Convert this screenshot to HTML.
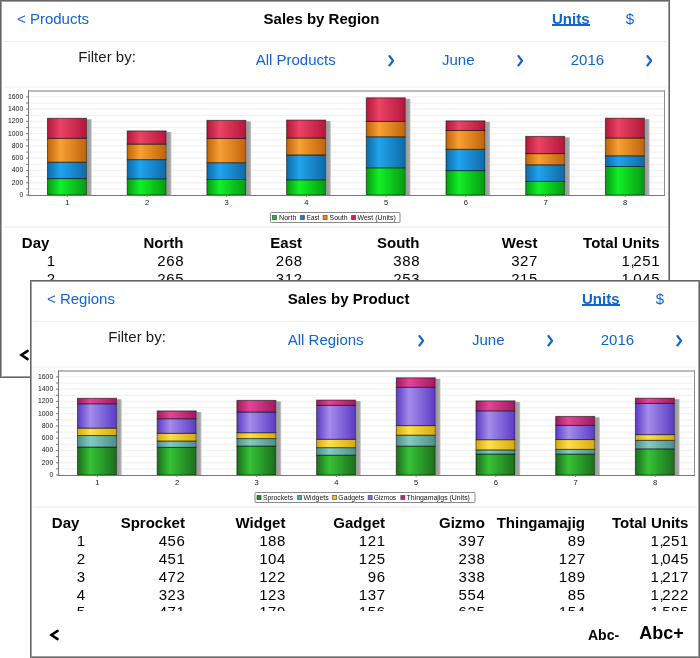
<!DOCTYPE html>
<html><head><meta charset="utf-8"><style>
html,body{margin:0;padding:0;background:#fff;}
body{width:700px;height:658px;position:relative;overflow:hidden;font-family:"Liberation Sans", sans-serif;}
.win{position:absolute;width:670px;height:378px;background:#fff;overflow:hidden;will-change:transform;}
.win::after{content:"";position:absolute;left:0;top:0;right:0;bottom:0;border:1px solid #666;box-shadow:inset 0 0 0 1px #a2a2a2;pointer-events:none;}
</style></head><body>
<div class="win" style="left:0px;top:0px">
<div style="position:absolute;left:17px;top:11.2px;font-size:15px;line-height:15px;font-weight:400;color:#1064cc;white-space:nowrap;">&lt; Products</div>
<div style="position:absolute;right:290.55px;top:11.2px;font-size:15px;line-height:15px;font-weight:700;color:#000;white-space:nowrap;">Sales by Region</div>
<div style="position:absolute;left:552px;top:11.2px;font-size:15px;line-height:15px;font-weight:700;color:#1064cc;white-space:nowrap;">Units</div>
<div style="position:absolute;left:551.6px;width:38px;top:24.4px;height:1.4px;background:#1064cc"></div>
<div style="position:absolute;left:625.8px;top:11.2px;font-size:15px;line-height:15px;font-weight:400;color:#1064cc;white-space:nowrap;">$</div>
<div style="position:absolute;left:3px;right:3px;top:40.8px;height:1.6px;background:#ebebf0"></div>
<div style="position:absolute;left:78.3px;top:49.2px;font-size:15px;line-height:15px;font-weight:400;color:#1a1a1a;white-space:nowrap;">Filter by:</div>
<div style="position:absolute;left:295.7px;top:51.6px;font-size:15px;line-height:15px;font-weight:400;color:#1064cc;white-space:nowrap;transform:translateX(-50%) ;transform-origin:0 12.70px;">All Products</div>
<div style="position:absolute;left:458.3px;top:51.6px;font-size:15px;line-height:15px;font-weight:400;color:#1064cc;white-space:nowrap;transform:translateX(-50%) ;transform-origin:0 12.70px;">June</div>
<div style="position:absolute;left:587.4px;top:51.6px;font-size:15px;line-height:15px;font-weight:400;color:#1064cc;white-space:nowrap;transform:translateX(-50%) ;transform-origin:0 12.70px;">2016</div>
<svg style="position:absolute;left:387px;top:55px" width="8" height="12" viewBox="0 0 8 12"><path d="M2.4 1.0 L6.1 5.75 L2.4 10.5" fill="none" stroke="#1064cc" stroke-width="2.05" stroke-linecap="round" stroke-linejoin="round"/></svg>
<svg style="position:absolute;left:516px;top:55px" width="8" height="12" viewBox="0 0 8 12"><path d="M2.4 1.0 L6.1 5.75 L2.4 10.5" fill="none" stroke="#1064cc" stroke-width="2.05" stroke-linecap="round" stroke-linejoin="round"/></svg>
<svg style="position:absolute;left:644.5px;top:55px" width="8" height="12" viewBox="0 0 8 12"><path d="M2.4 1.0 L6.1 5.75 L2.4 10.5" fill="none" stroke="#1064cc" stroke-width="2.05" stroke-linecap="round" stroke-linejoin="round"/></svg>
<div style="position:absolute;left:3px;right:3px;top:86px;height:1.5px;background:#f8f8f9"></div>
<svg width="670" height="240" viewBox="0 0 670 240" style="position:absolute;left:0;top:0">
<defs>
<linearGradient id="gR0" x1="0" y1="0" x2="1" y2="0"><stop offset="0" stop-color="#079a12"/><stop offset="0.33" stop-color="#12f028"/><stop offset="1" stop-color="#079a12"/></linearGradient>
<linearGradient id="gR1" x1="0" y1="0" x2="1" y2="0"><stop offset="0" stop-color="#0f6aa6"/><stop offset="0.33" stop-color="#1fa4ee"/><stop offset="1" stop-color="#0f6aa6"/></linearGradient>
<linearGradient id="gR2" x1="0" y1="0" x2="1" y2="0"><stop offset="0" stop-color="#c0640c"/><stop offset="0.33" stop-color="#f7a033"/><stop offset="1" stop-color="#c0640c"/></linearGradient>
<linearGradient id="gR3" x1="0" y1="0" x2="1" y2="0"><stop offset="0" stop-color="#b3173b"/><stop offset="0.33" stop-color="#ea4366"/><stop offset="1" stop-color="#b3173b"/></linearGradient>
<linearGradient id="shR" x1="0" y1="0" x2="1" y2="0"><stop offset="0" stop-color="#999"/><stop offset="0.7" stop-color="#a6a6a6"/><stop offset="1" stop-color="#c8c8c8"/></linearGradient>
</defs>
<rect x="28" y="90.5" width="637" height="104.5" fill="#fff"/>
<line x1="29" x2="665" y1="188.87" y2="188.87" stroke="#f2f2f2" stroke-width="1.3"/>
<line x1="29" x2="665" y1="182.74" y2="182.74" stroke="#f2f2f2" stroke-width="1.3"/>
<line x1="29" x2="665" y1="176.61" y2="176.61" stroke="#f2f2f2" stroke-width="1.3"/>
<line x1="29" x2="665" y1="170.47" y2="170.47" stroke="#f2f2f2" stroke-width="1.3"/>
<line x1="29" x2="665" y1="164.34" y2="164.34" stroke="#f2f2f2" stroke-width="1.3"/>
<line x1="29" x2="665" y1="158.21" y2="158.21" stroke="#f2f2f2" stroke-width="1.3"/>
<line x1="29" x2="665" y1="152.08" y2="152.08" stroke="#f2f2f2" stroke-width="1.3"/>
<line x1="29" x2="665" y1="145.95" y2="145.95" stroke="#f2f2f2" stroke-width="1.3"/>
<line x1="29" x2="665" y1="139.82" y2="139.82" stroke="#f2f2f2" stroke-width="1.3"/>
<line x1="29" x2="665" y1="133.69" y2="133.69" stroke="#f2f2f2" stroke-width="1.3"/>
<line x1="29" x2="665" y1="127.56" y2="127.56" stroke="#f2f2f2" stroke-width="1.3"/>
<line x1="29" x2="665" y1="121.42" y2="121.42" stroke="#f2f2f2" stroke-width="1.3"/>
<line x1="29" x2="665" y1="115.29" y2="115.29" stroke="#f2f2f2" stroke-width="1.3"/>
<line x1="29" x2="665" y1="109.16" y2="109.16" stroke="#f2f2f2" stroke-width="1.3"/>
<line x1="29" x2="665" y1="103.03" y2="103.03" stroke="#f2f2f2" stroke-width="1.3"/>
<line x1="29" x2="665" y1="96.90" y2="96.90" stroke="#f2f2f2" stroke-width="1.3"/>
<line x1="28" x2="665" y1="91.0" y2="91.0" stroke="#a4a4a4" stroke-width="1.6"/>
<line x1="664.5" x2="664.5" y1="90.5" y2="195" stroke="#8e8e8e" stroke-width="1"/>
<rect x="87.00" y="119.30" width="4.7" height="75.70" fill="url(#shR)"/>
<rect x="47.50" y="178.57" width="39.0" height="16.43" fill="url(#gR0)" stroke="rgba(0,0,0,0.55)" stroke-width="1"/>
<rect x="47.50" y="162.14" width="39.0" height="16.43" fill="url(#gR1)" stroke="rgba(0,0,0,0.55)" stroke-width="1"/>
<rect x="47.50" y="138.35" width="39.0" height="23.79" fill="url(#gR2)" stroke="rgba(0,0,0,0.55)" stroke-width="1"/>
<rect x="47.50" y="118.30" width="39.0" height="20.05" fill="url(#gR3)" stroke="rgba(0,0,0,0.55)" stroke-width="1"/>
<rect x="166.70" y="131.93" width="4.7" height="63.07" fill="url(#shR)"/>
<rect x="127.20" y="178.75" width="39.0" height="16.25" fill="url(#gR0)" stroke="rgba(0,0,0,0.55)" stroke-width="1"/>
<rect x="127.20" y="159.62" width="39.0" height="19.13" fill="url(#gR1)" stroke="rgba(0,0,0,0.55)" stroke-width="1"/>
<rect x="127.20" y="144.11" width="39.0" height="15.51" fill="url(#gR2)" stroke="rgba(0,0,0,0.55)" stroke-width="1"/>
<rect x="127.20" y="130.93" width="39.0" height="13.18" fill="url(#gR3)" stroke="rgba(0,0,0,0.55)" stroke-width="1"/>
<rect x="246.40" y="121.38" width="4.7" height="73.62" fill="url(#shR)"/>
<rect x="206.90" y="179.49" width="39.0" height="15.51" fill="url(#gR0)" stroke="rgba(0,0,0,0.55)" stroke-width="1"/>
<rect x="206.90" y="162.69" width="39.0" height="16.80" fill="url(#gR1)" stroke="rgba(0,0,0,0.55)" stroke-width="1"/>
<rect x="206.90" y="138.47" width="39.0" height="24.22" fill="url(#gR2)" stroke="rgba(0,0,0,0.55)" stroke-width="1"/>
<rect x="206.90" y="120.38" width="39.0" height="18.09" fill="url(#gR3)" stroke="rgba(0,0,0,0.55)" stroke-width="1"/>
<rect x="326.10" y="121.08" width="4.7" height="73.92" fill="url(#shR)"/>
<rect x="286.60" y="179.79" width="39.0" height="15.21" fill="url(#gR0)" stroke="rgba(0,0,0,0.55)" stroke-width="1"/>
<rect x="286.60" y="154.90" width="39.0" height="24.89" fill="url(#gR1)" stroke="rgba(0,0,0,0.55)" stroke-width="1"/>
<rect x="286.60" y="137.98" width="39.0" height="16.92" fill="url(#gR2)" stroke="rgba(0,0,0,0.55)" stroke-width="1"/>
<rect x="286.60" y="120.08" width="39.0" height="17.90" fill="url(#gR3)" stroke="rgba(0,0,0,0.55)" stroke-width="1"/>
<rect x="405.80" y="98.82" width="4.7" height="96.18" fill="url(#shR)"/>
<rect x="366.30" y="167.78" width="39.0" height="27.22" fill="url(#gR0)" stroke="rgba(0,0,0,0.55)" stroke-width="1"/>
<rect x="366.30" y="136.75" width="39.0" height="31.02" fill="url(#gR1)" stroke="rgba(0,0,0,0.55)" stroke-width="1"/>
<rect x="366.30" y="121.36" width="39.0" height="15.39" fill="url(#gR2)" stroke="rgba(0,0,0,0.55)" stroke-width="1"/>
<rect x="366.30" y="97.82" width="39.0" height="23.54" fill="url(#gR3)" stroke="rgba(0,0,0,0.55)" stroke-width="1"/>
<rect x="485.50" y="121.87" width="4.7" height="73.13" fill="url(#shR)"/>
<rect x="446.00" y="170.60" width="39.0" height="24.40" fill="url(#gR0)" stroke="rgba(0,0,0,0.55)" stroke-width="1"/>
<rect x="446.00" y="149.32" width="39.0" height="21.28" fill="url(#gR1)" stroke="rgba(0,0,0,0.55)" stroke-width="1"/>
<rect x="446.00" y="130.50" width="39.0" height="18.82" fill="url(#gR2)" stroke="rgba(0,0,0,0.55)" stroke-width="1"/>
<rect x="446.00" y="120.87" width="39.0" height="9.63" fill="url(#gR3)" stroke="rgba(0,0,0,0.55)" stroke-width="1"/>
<rect x="565.20" y="137.39" width="4.7" height="57.61" fill="url(#shR)"/>
<rect x="525.70" y="181.39" width="39.0" height="13.61" fill="url(#gR0)" stroke="rgba(0,0,0,0.55)" stroke-width="1"/>
<rect x="525.70" y="164.77" width="39.0" height="16.62" fill="url(#gR1)" stroke="rgba(0,0,0,0.55)" stroke-width="1"/>
<rect x="525.70" y="153.61" width="39.0" height="11.16" fill="url(#gR2)" stroke="rgba(0,0,0,0.55)" stroke-width="1"/>
<rect x="525.70" y="136.39" width="39.0" height="17.23" fill="url(#gR3)" stroke="rgba(0,0,0,0.55)" stroke-width="1"/>
<rect x="644.90" y="119.18" width="4.7" height="75.82" fill="url(#shR)"/>
<rect x="605.40" y="166.49" width="39.0" height="28.51" fill="url(#gR0)" stroke="rgba(0,0,0,0.55)" stroke-width="1"/>
<rect x="605.40" y="155.76" width="39.0" height="10.73" fill="url(#gR1)" stroke="rgba(0,0,0,0.55)" stroke-width="1"/>
<rect x="605.40" y="137.98" width="39.0" height="17.78" fill="url(#gR2)" stroke="rgba(0,0,0,0.55)" stroke-width="1"/>
<rect x="605.40" y="118.18" width="39.0" height="19.80" fill="url(#gR3)" stroke="rgba(0,0,0,0.55)" stroke-width="1"/>
<line x1="28.5" x2="28.5" y1="90.5" y2="196" stroke="#777" stroke-width="1.1"/>
<line x1="28" x2="665" y1="195.5" y2="195.5" stroke="#777" stroke-width="1.1"/>
<line x1="26" x2="28" y1="195.00" y2="195.00" stroke="#7a7a7a" stroke-width="1"/>
<text x="23.2" y="196.90" text-anchor="end" font-family="Liberation Sans" font-size="7.6" fill="#141414" textLength="3.8" lengthAdjust="spacingAndGlyphs">0</text>
<line x1="26" x2="28" y1="188.87" y2="188.87" stroke="#7a7a7a" stroke-width="1"/>
<line x1="26" x2="28" y1="182.74" y2="182.74" stroke="#7a7a7a" stroke-width="1"/>
<text x="23.2" y="184.64" text-anchor="end" font-family="Liberation Sans" font-size="7.6" fill="#141414" textLength="11.4" lengthAdjust="spacingAndGlyphs">200</text>
<line x1="26" x2="28" y1="176.61" y2="176.61" stroke="#7a7a7a" stroke-width="1"/>
<line x1="26" x2="28" y1="170.47" y2="170.47" stroke="#7a7a7a" stroke-width="1"/>
<text x="23.2" y="172.38" text-anchor="end" font-family="Liberation Sans" font-size="7.6" fill="#141414" textLength="11.4" lengthAdjust="spacingAndGlyphs">400</text>
<line x1="26" x2="28" y1="164.34" y2="164.34" stroke="#7a7a7a" stroke-width="1"/>
<line x1="26" x2="28" y1="158.21" y2="158.21" stroke="#7a7a7a" stroke-width="1"/>
<text x="23.2" y="160.11" text-anchor="end" font-family="Liberation Sans" font-size="7.6" fill="#141414" textLength="11.4" lengthAdjust="spacingAndGlyphs">600</text>
<line x1="26" x2="28" y1="152.08" y2="152.08" stroke="#7a7a7a" stroke-width="1"/>
<line x1="26" x2="28" y1="145.95" y2="145.95" stroke="#7a7a7a" stroke-width="1"/>
<text x="23.2" y="147.85" text-anchor="end" font-family="Liberation Sans" font-size="7.6" fill="#141414" textLength="11.4" lengthAdjust="spacingAndGlyphs">800</text>
<line x1="26" x2="28" y1="139.82" y2="139.82" stroke="#7a7a7a" stroke-width="1"/>
<line x1="26" x2="28" y1="133.69" y2="133.69" stroke="#7a7a7a" stroke-width="1"/>
<text x="23.2" y="135.59" text-anchor="end" font-family="Liberation Sans" font-size="7.6" fill="#141414" textLength="15.2" lengthAdjust="spacingAndGlyphs">1000</text>
<line x1="26" x2="28" y1="127.56" y2="127.56" stroke="#7a7a7a" stroke-width="1"/>
<line x1="26" x2="28" y1="121.42" y2="121.42" stroke="#7a7a7a" stroke-width="1"/>
<text x="23.2" y="123.33" text-anchor="end" font-family="Liberation Sans" font-size="7.6" fill="#141414" textLength="15.2" lengthAdjust="spacingAndGlyphs">1200</text>
<line x1="26" x2="28" y1="115.29" y2="115.29" stroke="#7a7a7a" stroke-width="1"/>
<line x1="26" x2="28" y1="109.16" y2="109.16" stroke="#7a7a7a" stroke-width="1"/>
<text x="23.2" y="111.06" text-anchor="end" font-family="Liberation Sans" font-size="7.6" fill="#141414" textLength="15.2" lengthAdjust="spacingAndGlyphs">1400</text>
<line x1="26" x2="28" y1="103.03" y2="103.03" stroke="#7a7a7a" stroke-width="1"/>
<line x1="26" x2="28" y1="96.90" y2="96.90" stroke="#7a7a7a" stroke-width="1"/>
<text x="23.2" y="98.80" text-anchor="end" font-family="Liberation Sans" font-size="7.6" fill="#141414" textLength="15.2" lengthAdjust="spacingAndGlyphs">1600</text>
<line x1="67.30" x2="67.30" y1="195" y2="197" stroke="#7a7a7a" stroke-width="1"/>
<text x="67.30" y="205.3" text-anchor="middle" font-family="Liberation Sans" font-size="7.6" fill="#141414">1</text>
<line x1="147.00" x2="147.00" y1="195" y2="197" stroke="#7a7a7a" stroke-width="1"/>
<text x="147.00" y="205.3" text-anchor="middle" font-family="Liberation Sans" font-size="7.6" fill="#141414">2</text>
<line x1="226.70" x2="226.70" y1="195" y2="197" stroke="#7a7a7a" stroke-width="1"/>
<text x="226.70" y="205.3" text-anchor="middle" font-family="Liberation Sans" font-size="7.6" fill="#141414">3</text>
<line x1="306.40" x2="306.40" y1="195" y2="197" stroke="#7a7a7a" stroke-width="1"/>
<text x="306.40" y="205.3" text-anchor="middle" font-family="Liberation Sans" font-size="7.6" fill="#141414">4</text>
<line x1="386.10" x2="386.10" y1="195" y2="197" stroke="#7a7a7a" stroke-width="1"/>
<text x="386.10" y="205.3" text-anchor="middle" font-family="Liberation Sans" font-size="7.6" fill="#141414">5</text>
<line x1="465.80" x2="465.80" y1="195" y2="197" stroke="#7a7a7a" stroke-width="1"/>
<text x="465.80" y="205.3" text-anchor="middle" font-family="Liberation Sans" font-size="7.6" fill="#141414">6</text>
<line x1="545.50" x2="545.50" y1="195" y2="197" stroke="#7a7a7a" stroke-width="1"/>
<text x="545.50" y="205.3" text-anchor="middle" font-family="Liberation Sans" font-size="7.6" fill="#141414">7</text>
<line x1="625.20" x2="625.20" y1="195" y2="197" stroke="#7a7a7a" stroke-width="1"/>
<text x="625.20" y="205.3" text-anchor="middle" font-family="Liberation Sans" font-size="7.6" fill="#141414">8</text>
<rect x="270.5" y="212.5" width="129.5" height="10" rx="1" fill="#fff" stroke="#888" stroke-width="1"/>
<rect x="272.5" y="215.5" width="4" height="4" fill="#17c22a" stroke="rgba(0,0,0,0.45)" stroke-width="1"/>
<text x="279" y="220.3" font-family="Liberation Sans" font-size="7.2" fill="#111" textLength="17.4" lengthAdjust="spacingAndGlyphs">North</text>
<rect x="300.4" y="215.5" width="4" height="4" fill="#1a7fcf" stroke="rgba(0,0,0,0.45)" stroke-width="1"/>
<text x="306.7" y="220.3" font-family="Liberation Sans" font-size="7.2" fill="#111" textLength="12.6" lengthAdjust="spacingAndGlyphs">East</text>
<rect x="323.1" y="215.5" width="4" height="4" fill="#e58a22" stroke="rgba(0,0,0,0.45)" stroke-width="1"/>
<text x="329.6" y="220.3" font-family="Liberation Sans" font-size="7.2" fill="#111" textLength="18.0" lengthAdjust="spacingAndGlyphs">South</text>
<rect x="351.5" y="215.5" width="4" height="4" fill="#d4244c" stroke="rgba(0,0,0,0.45)" stroke-width="1"/>
<text x="357.5" y="220.3" font-family="Liberation Sans" font-size="7.2" fill="#111" textLength="38.3" lengthAdjust="spacingAndGlyphs">West (Units)</text>
</svg>
<div style="position:absolute;left:3px;right:3px;top:226px;height:1.5px;background:#f4f4f7"></div>
<div style="position:absolute;left:0;top:0;width:670px;height:331px;overflow:hidden">
<div style="position:absolute;left:21.8px;top:235.3px;font-size:15px;line-height:15px;font-weight:700;color:#000;white-space:nowrap;">Day</div>
<div style="position:absolute;right:486.5px;top:235.3px;font-size:15px;line-height:15px;font-weight:700;color:#000;white-space:nowrap;">North</div>
<div style="position:absolute;right:368px;top:235.3px;font-size:15px;line-height:15px;font-weight:700;color:#000;white-space:nowrap;">East</div>
<div style="position:absolute;right:250.5px;top:235.3px;font-size:15px;line-height:15px;font-weight:700;color:#000;white-space:nowrap;">South</div>
<div style="position:absolute;right:132.60000000000002px;top:235.3px;font-size:15px;line-height:15px;font-weight:700;color:#000;white-space:nowrap;">West</div>
<div style="position:absolute;right:10.5px;top:235.3px;font-size:15px;line-height:15px;font-weight:700;color:#000;white-space:nowrap;">Total Units</div>
<div style="position:absolute;right:614.4px;top:253.0px;font-size:15px;line-height:15px;font-weight:400;color:#000;white-space:nowrap;letter-spacing:0.6px;">1</div>
<div style="position:absolute;right:485.9px;top:253.0px;font-size:15px;line-height:15px;font-weight:400;color:#000;white-space:nowrap;letter-spacing:0.6px;">268</div>
<div style="position:absolute;right:367.4px;top:253.0px;font-size:15px;line-height:15px;font-weight:400;color:#000;white-space:nowrap;letter-spacing:0.6px;">268</div>
<div style="position:absolute;right:249.89999999999998px;top:253.0px;font-size:15px;line-height:15px;font-weight:400;color:#000;white-space:nowrap;letter-spacing:0.6px;">388</div>
<div style="position:absolute;right:132.0px;top:253.0px;font-size:15px;line-height:15px;font-weight:400;color:#000;white-space:nowrap;letter-spacing:0.6px;">327</div>
<div style="position:absolute;right:9.899999999999977px;top:253.0px;font-size:15px;line-height:15px;font-weight:400;color:#000;white-space:nowrap;letter-spacing:0.6px;">1<span style="letter-spacing:-1.4px">,</span>251</div>
<div style="position:absolute;right:614.4px;top:270.85px;font-size:15px;line-height:15px;font-weight:400;color:#000;white-space:nowrap;letter-spacing:0.6px;">2</div>
<div style="position:absolute;right:485.9px;top:270.85px;font-size:15px;line-height:15px;font-weight:400;color:#000;white-space:nowrap;letter-spacing:0.6px;">265</div>
<div style="position:absolute;right:367.4px;top:270.85px;font-size:15px;line-height:15px;font-weight:400;color:#000;white-space:nowrap;letter-spacing:0.6px;">312</div>
<div style="position:absolute;right:249.89999999999998px;top:270.85px;font-size:15px;line-height:15px;font-weight:400;color:#000;white-space:nowrap;letter-spacing:0.6px;">253</div>
<div style="position:absolute;right:132.0px;top:270.85px;font-size:15px;line-height:15px;font-weight:400;color:#000;white-space:nowrap;letter-spacing:0.6px;">215</div>
<div style="position:absolute;right:9.899999999999977px;top:270.85px;font-size:15px;line-height:15px;font-weight:400;color:#000;white-space:nowrap;letter-spacing:0.6px;">1<span style="letter-spacing:-1.4px">,</span>045</div>
<div style="position:absolute;right:614.4px;top:288.7px;font-size:15px;line-height:15px;font-weight:400;color:#000;white-space:nowrap;letter-spacing:0.6px;">3</div>
<div style="position:absolute;right:485.9px;top:288.7px;font-size:15px;line-height:15px;font-weight:400;color:#000;white-space:nowrap;letter-spacing:0.6px;">253</div>
<div style="position:absolute;right:367.4px;top:288.7px;font-size:15px;line-height:15px;font-weight:400;color:#000;white-space:nowrap;letter-spacing:0.6px;">274</div>
<div style="position:absolute;right:249.89999999999998px;top:288.7px;font-size:15px;line-height:15px;font-weight:400;color:#000;white-space:nowrap;letter-spacing:0.6px;">395</div>
<div style="position:absolute;right:132.0px;top:288.7px;font-size:15px;line-height:15px;font-weight:400;color:#000;white-space:nowrap;letter-spacing:0.6px;">295</div>
<div style="position:absolute;right:9.899999999999977px;top:288.7px;font-size:15px;line-height:15px;font-weight:400;color:#000;white-space:nowrap;letter-spacing:0.6px;">1<span style="letter-spacing:-1.4px">,</span>217</div>
<div style="position:absolute;right:614.4px;top:306.55px;font-size:15px;line-height:15px;font-weight:400;color:#000;white-space:nowrap;letter-spacing:0.6px;">4</div>
<div style="position:absolute;right:485.9px;top:306.55px;font-size:15px;line-height:15px;font-weight:400;color:#000;white-space:nowrap;letter-spacing:0.6px;">248</div>
<div style="position:absolute;right:367.4px;top:306.55px;font-size:15px;line-height:15px;font-weight:400;color:#000;white-space:nowrap;letter-spacing:0.6px;">406</div>
<div style="position:absolute;right:249.89999999999998px;top:306.55px;font-size:15px;line-height:15px;font-weight:400;color:#000;white-space:nowrap;letter-spacing:0.6px;">276</div>
<div style="position:absolute;right:132.0px;top:306.55px;font-size:15px;line-height:15px;font-weight:400;color:#000;white-space:nowrap;letter-spacing:0.6px;">292</div>
<div style="position:absolute;right:9.899999999999977px;top:306.55px;font-size:15px;line-height:15px;font-weight:400;color:#000;white-space:nowrap;letter-spacing:0.6px;">1<span style="letter-spacing:-1.4px">,</span>222</div>
<div style="position:absolute;right:614.4px;top:324.4px;font-size:15px;line-height:15px;font-weight:400;color:#000;white-space:nowrap;letter-spacing:0.6px;">5</div>
<div style="position:absolute;right:485.9px;top:324.4px;font-size:15px;line-height:15px;font-weight:400;color:#000;white-space:nowrap;letter-spacing:0.6px;">444</div>
<div style="position:absolute;right:367.4px;top:324.4px;font-size:15px;line-height:15px;font-weight:400;color:#000;white-space:nowrap;letter-spacing:0.6px;">506</div>
<div style="position:absolute;right:249.89999999999998px;top:324.4px;font-size:15px;line-height:15px;font-weight:400;color:#000;white-space:nowrap;letter-spacing:0.6px;">251</div>
<div style="position:absolute;right:132.0px;top:324.4px;font-size:15px;line-height:15px;font-weight:400;color:#000;white-space:nowrap;letter-spacing:0.6px;">384</div>
<div style="position:absolute;right:9.899999999999977px;top:324.4px;font-size:15px;line-height:15px;font-weight:400;color:#000;white-space:nowrap;letter-spacing:0.6px;">1<span style="letter-spacing:-1.4px">,</span>585</div>
<div style="position:absolute;right:614.4px;top:342.25px;font-size:15px;line-height:15px;font-weight:400;color:#000;white-space:nowrap;letter-spacing:0.6px;">6</div>
<div style="position:absolute;right:485.9px;top:342.25px;font-size:15px;line-height:15px;font-weight:400;color:#000;white-space:nowrap;letter-spacing:0.6px;">398</div>
<div style="position:absolute;right:367.4px;top:342.25px;font-size:15px;line-height:15px;font-weight:400;color:#000;white-space:nowrap;letter-spacing:0.6px;">347</div>
<div style="position:absolute;right:249.89999999999998px;top:342.25px;font-size:15px;line-height:15px;font-weight:400;color:#000;white-space:nowrap;letter-spacing:0.6px;">307</div>
<div style="position:absolute;right:132.0px;top:342.25px;font-size:15px;line-height:15px;font-weight:400;color:#000;white-space:nowrap;letter-spacing:0.6px;">157</div>
<div style="position:absolute;right:9.899999999999977px;top:342.25px;font-size:15px;line-height:15px;font-weight:400;color:#000;white-space:nowrap;letter-spacing:0.6px;">1<span style="letter-spacing:-1.4px">,</span>209</div>
<div style="position:absolute;right:614.4px;top:360.1px;font-size:15px;line-height:15px;font-weight:400;color:#000;white-space:nowrap;letter-spacing:0.6px;">7</div>
<div style="position:absolute;right:485.9px;top:360.1px;font-size:15px;line-height:15px;font-weight:400;color:#000;white-space:nowrap;letter-spacing:0.6px;">222</div>
<div style="position:absolute;right:367.4px;top:360.1px;font-size:15px;line-height:15px;font-weight:400;color:#000;white-space:nowrap;letter-spacing:0.6px;">271</div>
<div style="position:absolute;right:249.89999999999998px;top:360.1px;font-size:15px;line-height:15px;font-weight:400;color:#000;white-space:nowrap;letter-spacing:0.6px;">182</div>
<div style="position:absolute;right:132.0px;top:360.1px;font-size:15px;line-height:15px;font-weight:400;color:#000;white-space:nowrap;letter-spacing:0.6px;">281</div>
<div style="position:absolute;right:9.899999999999977px;top:360.1px;font-size:15px;line-height:15px;font-weight:400;color:#000;white-space:nowrap;letter-spacing:0.6px;">956</div>
<div style="position:absolute;right:614.4px;top:377.95000000000005px;font-size:15px;line-height:15px;font-weight:400;color:#000;white-space:nowrap;letter-spacing:0.6px;">8</div>
<div style="position:absolute;right:485.9px;top:377.95000000000005px;font-size:15px;line-height:15px;font-weight:400;color:#000;white-space:nowrap;letter-spacing:0.6px;">465</div>
<div style="position:absolute;right:367.4px;top:377.95000000000005px;font-size:15px;line-height:15px;font-weight:400;color:#000;white-space:nowrap;letter-spacing:0.6px;">175</div>
<div style="position:absolute;right:249.89999999999998px;top:377.95000000000005px;font-size:15px;line-height:15px;font-weight:400;color:#000;white-space:nowrap;letter-spacing:0.6px;">290</div>
<div style="position:absolute;right:132.0px;top:377.95000000000005px;font-size:15px;line-height:15px;font-weight:400;color:#000;white-space:nowrap;letter-spacing:0.6px;">323</div>
<div style="position:absolute;right:9.899999999999977px;top:377.95000000000005px;font-size:15px;line-height:15px;font-weight:400;color:#000;white-space:nowrap;letter-spacing:0.6px;">1<span style="letter-spacing:-1.4px">,</span>253</div>
</div>
<svg style="position:absolute;left:18px;top:348px" width="14" height="14" viewBox="0 0 14 14"><path d="M9.6 2.9 L3.4 7 L9.6 11.1" fill="none" stroke="#000" stroke-width="2.5" stroke-linecap="round" stroke-linejoin="miter"/></svg>

</div>
<div class="win" style="left:30px;top:280px">
<div style="position:absolute;left:17px;top:11.2px;font-size:15px;line-height:15px;font-weight:400;color:#1064cc;white-space:nowrap;">&lt; Regions</div>
<div style="position:absolute;right:290.55px;top:11.2px;font-size:15px;line-height:15px;font-weight:700;color:#000;white-space:nowrap;">Sales by Product</div>
<div style="position:absolute;left:552px;top:11.2px;font-size:15px;line-height:15px;font-weight:700;color:#1064cc;white-space:nowrap;">Units</div>
<div style="position:absolute;left:551.6px;width:38px;top:24.4px;height:1.4px;background:#1064cc"></div>
<div style="position:absolute;left:625.8px;top:11.2px;font-size:15px;line-height:15px;font-weight:400;color:#1064cc;white-space:nowrap;">$</div>
<div style="position:absolute;left:3px;right:3px;top:40.8px;height:1.6px;background:#ebebf0"></div>
<div style="position:absolute;left:78.3px;top:49.2px;font-size:15px;line-height:15px;font-weight:400;color:#1a1a1a;white-space:nowrap;">Filter by:</div>
<div style="position:absolute;left:295.7px;top:51.6px;font-size:15px;line-height:15px;font-weight:400;color:#1064cc;white-space:nowrap;transform:translateX(-50%) ;transform-origin:0 12.70px;">All Regions</div>
<div style="position:absolute;left:458.3px;top:51.6px;font-size:15px;line-height:15px;font-weight:400;color:#1064cc;white-space:nowrap;transform:translateX(-50%) ;transform-origin:0 12.70px;">June</div>
<div style="position:absolute;left:587.4px;top:51.6px;font-size:15px;line-height:15px;font-weight:400;color:#1064cc;white-space:nowrap;transform:translateX(-50%) ;transform-origin:0 12.70px;">2016</div>
<svg style="position:absolute;left:387px;top:55px" width="8" height="12" viewBox="0 0 8 12"><path d="M2.4 1.0 L6.1 5.75 L2.4 10.5" fill="none" stroke="#1064cc" stroke-width="2.05" stroke-linecap="round" stroke-linejoin="round"/></svg>
<svg style="position:absolute;left:516px;top:55px" width="8" height="12" viewBox="0 0 8 12"><path d="M2.4 1.0 L6.1 5.75 L2.4 10.5" fill="none" stroke="#1064cc" stroke-width="2.05" stroke-linecap="round" stroke-linejoin="round"/></svg>
<svg style="position:absolute;left:644.5px;top:55px" width="8" height="12" viewBox="0 0 8 12"><path d="M2.4 1.0 L6.1 5.75 L2.4 10.5" fill="none" stroke="#1064cc" stroke-width="2.05" stroke-linecap="round" stroke-linejoin="round"/></svg>
<div style="position:absolute;left:3px;right:3px;top:86px;height:1.5px;background:#f8f8f9"></div>
<svg width="670" height="240" viewBox="0 0 670 240" style="position:absolute;left:0;top:0">
<defs>
<linearGradient id="gP0" x1="0" y1="0" x2="1" y2="0"><stop offset="0" stop-color="#1b6e1b"/><stop offset="0.33" stop-color="#36c236"/><stop offset="1" stop-color="#1b6e1b"/></linearGradient>
<linearGradient id="gP1" x1="0" y1="0" x2="1" y2="0"><stop offset="0" stop-color="#4c8f88"/><stop offset="0.33" stop-color="#85cac2"/><stop offset="1" stop-color="#4c8f88"/></linearGradient>
<linearGradient id="gP2" x1="0" y1="0" x2="1" y2="0"><stop offset="0" stop-color="#d6aa0c"/><stop offset="0.33" stop-color="#fde04a"/><stop offset="1" stop-color="#d6aa0c"/></linearGradient>
<linearGradient id="gP3" x1="0" y1="0" x2="1" y2="0"><stop offset="0" stop-color="#5a3cc4"/><stop offset="0.33" stop-color="#a48cec"/><stop offset="1" stop-color="#5a3cc4"/></linearGradient>
<linearGradient id="gP4" x1="0" y1="0" x2="1" y2="0"><stop offset="0" stop-color="#a01a60"/><stop offset="0.33" stop-color="#e44596"/><stop offset="1" stop-color="#a01a60"/></linearGradient>
<linearGradient id="shP" x1="0" y1="0" x2="1" y2="0"><stop offset="0" stop-color="#999"/><stop offset="0.7" stop-color="#a6a6a6"/><stop offset="1" stop-color="#c8c8c8"/></linearGradient>
</defs>
<rect x="28" y="90.5" width="637" height="104.5" fill="#fff"/>
<line x1="29" x2="665" y1="188.87" y2="188.87" stroke="#f2f2f2" stroke-width="1.3"/>
<line x1="29" x2="665" y1="182.74" y2="182.74" stroke="#f2f2f2" stroke-width="1.3"/>
<line x1="29" x2="665" y1="176.61" y2="176.61" stroke="#f2f2f2" stroke-width="1.3"/>
<line x1="29" x2="665" y1="170.47" y2="170.47" stroke="#f2f2f2" stroke-width="1.3"/>
<line x1="29" x2="665" y1="164.34" y2="164.34" stroke="#f2f2f2" stroke-width="1.3"/>
<line x1="29" x2="665" y1="158.21" y2="158.21" stroke="#f2f2f2" stroke-width="1.3"/>
<line x1="29" x2="665" y1="152.08" y2="152.08" stroke="#f2f2f2" stroke-width="1.3"/>
<line x1="29" x2="665" y1="145.95" y2="145.95" stroke="#f2f2f2" stroke-width="1.3"/>
<line x1="29" x2="665" y1="139.82" y2="139.82" stroke="#f2f2f2" stroke-width="1.3"/>
<line x1="29" x2="665" y1="133.69" y2="133.69" stroke="#f2f2f2" stroke-width="1.3"/>
<line x1="29" x2="665" y1="127.56" y2="127.56" stroke="#f2f2f2" stroke-width="1.3"/>
<line x1="29" x2="665" y1="121.42" y2="121.42" stroke="#f2f2f2" stroke-width="1.3"/>
<line x1="29" x2="665" y1="115.29" y2="115.29" stroke="#f2f2f2" stroke-width="1.3"/>
<line x1="29" x2="665" y1="109.16" y2="109.16" stroke="#f2f2f2" stroke-width="1.3"/>
<line x1="29" x2="665" y1="103.03" y2="103.03" stroke="#f2f2f2" stroke-width="1.3"/>
<line x1="29" x2="665" y1="96.90" y2="96.90" stroke="#f2f2f2" stroke-width="1.3"/>
<line x1="28" x2="665" y1="91.0" y2="91.0" stroke="#a4a4a4" stroke-width="1.6"/>
<line x1="664.5" x2="664.5" y1="90.5" y2="195" stroke="#8e8e8e" stroke-width="1"/>
<rect x="87.00" y="119.30" width="4.7" height="75.70" fill="url(#shP)"/>
<rect x="47.50" y="167.04" width="39.0" height="27.96" fill="url(#gP0)" stroke="rgba(0,0,0,0.55)" stroke-width="1"/>
<rect x="47.50" y="155.51" width="39.0" height="11.53" fill="url(#gP1)" stroke="rgba(0,0,0,0.55)" stroke-width="1"/>
<rect x="47.50" y="148.10" width="39.0" height="7.42" fill="url(#gP2)" stroke="rgba(0,0,0,0.55)" stroke-width="1"/>
<rect x="47.50" y="123.75" width="39.0" height="24.34" fill="url(#gP3)" stroke="rgba(0,0,0,0.55)" stroke-width="1"/>
<rect x="47.50" y="118.30" width="39.0" height="5.46" fill="url(#gP4)" stroke="rgba(0,0,0,0.55)" stroke-width="1"/>
<rect x="166.70" y="131.93" width="4.7" height="63.07" fill="url(#shP)"/>
<rect x="127.20" y="167.35" width="39.0" height="27.65" fill="url(#gP0)" stroke="rgba(0,0,0,0.55)" stroke-width="1"/>
<rect x="127.20" y="160.97" width="39.0" height="6.38" fill="url(#gP1)" stroke="rgba(0,0,0,0.55)" stroke-width="1"/>
<rect x="127.20" y="153.31" width="39.0" height="7.66" fill="url(#gP2)" stroke="rgba(0,0,0,0.55)" stroke-width="1"/>
<rect x="127.20" y="138.72" width="39.0" height="14.59" fill="url(#gP3)" stroke="rgba(0,0,0,0.55)" stroke-width="1"/>
<rect x="127.20" y="130.93" width="39.0" height="7.79" fill="url(#gP4)" stroke="rgba(0,0,0,0.55)" stroke-width="1"/>
<rect x="246.40" y="121.38" width="4.7" height="73.62" fill="url(#shP)"/>
<rect x="206.90" y="166.06" width="39.0" height="28.94" fill="url(#gP0)" stroke="rgba(0,0,0,0.55)" stroke-width="1"/>
<rect x="206.90" y="158.58" width="39.0" height="7.48" fill="url(#gP1)" stroke="rgba(0,0,0,0.55)" stroke-width="1"/>
<rect x="206.90" y="152.69" width="39.0" height="5.89" fill="url(#gP2)" stroke="rgba(0,0,0,0.55)" stroke-width="1"/>
<rect x="206.90" y="131.97" width="39.0" height="20.72" fill="url(#gP3)" stroke="rgba(0,0,0,0.55)" stroke-width="1"/>
<rect x="206.90" y="120.38" width="39.0" height="11.59" fill="url(#gP4)" stroke="rgba(0,0,0,0.55)" stroke-width="1"/>
<rect x="326.10" y="121.08" width="4.7" height="73.92" fill="url(#shP)"/>
<rect x="286.60" y="175.20" width="39.0" height="19.80" fill="url(#gP0)" stroke="rgba(0,0,0,0.55)" stroke-width="1"/>
<rect x="286.60" y="167.65" width="39.0" height="7.54" fill="url(#gP1)" stroke="rgba(0,0,0,0.55)" stroke-width="1"/>
<rect x="286.60" y="159.25" width="39.0" height="8.40" fill="url(#gP2)" stroke="rgba(0,0,0,0.55)" stroke-width="1"/>
<rect x="286.60" y="125.29" width="39.0" height="33.97" fill="url(#gP3)" stroke="rgba(0,0,0,0.55)" stroke-width="1"/>
<rect x="286.60" y="120.08" width="39.0" height="5.21" fill="url(#gP4)" stroke="rgba(0,0,0,0.55)" stroke-width="1"/>
<rect x="405.80" y="98.82" width="4.7" height="96.18" fill="url(#shP)"/>
<rect x="366.30" y="166.12" width="39.0" height="28.88" fill="url(#gP0)" stroke="rgba(0,0,0,0.55)" stroke-width="1"/>
<rect x="366.30" y="155.15" width="39.0" height="10.97" fill="url(#gP1)" stroke="rgba(0,0,0,0.55)" stroke-width="1"/>
<rect x="366.30" y="145.58" width="39.0" height="9.56" fill="url(#gP2)" stroke="rgba(0,0,0,0.55)" stroke-width="1"/>
<rect x="366.30" y="107.26" width="39.0" height="38.32" fill="url(#gP3)" stroke="rgba(0,0,0,0.55)" stroke-width="1"/>
<rect x="366.30" y="97.82" width="39.0" height="9.44" fill="url(#gP4)" stroke="rgba(0,0,0,0.55)" stroke-width="1"/>
<rect x="485.50" y="121.87" width="4.7" height="73.13" fill="url(#shP)"/>
<rect x="446.00" y="173.97" width="39.0" height="21.03" fill="url(#gP0)" stroke="rgba(0,0,0,0.55)" stroke-width="1"/>
<rect x="446.00" y="169.86" width="39.0" height="4.11" fill="url(#gP1)" stroke="rgba(0,0,0,0.55)" stroke-width="1"/>
<rect x="446.00" y="159.68" width="39.0" height="10.18" fill="url(#gP2)" stroke="rgba(0,0,0,0.55)" stroke-width="1"/>
<rect x="446.00" y="130.81" width="39.0" height="28.88" fill="url(#gP3)" stroke="rgba(0,0,0,0.55)" stroke-width="1"/>
<rect x="446.00" y="120.87" width="39.0" height="9.93" fill="url(#gP4)" stroke="rgba(0,0,0,0.55)" stroke-width="1"/>
<rect x="565.20" y="137.39" width="4.7" height="57.61" fill="url(#shP)"/>
<rect x="525.70" y="174.09" width="39.0" height="20.91" fill="url(#gP0)" stroke="rgba(0,0,0,0.55)" stroke-width="1"/>
<rect x="525.70" y="169.37" width="39.0" height="4.72" fill="url(#gP1)" stroke="rgba(0,0,0,0.55)" stroke-width="1"/>
<rect x="525.70" y="159.56" width="39.0" height="9.81" fill="url(#gP2)" stroke="rgba(0,0,0,0.55)" stroke-width="1"/>
<rect x="525.70" y="145.34" width="39.0" height="14.22" fill="url(#gP3)" stroke="rgba(0,0,0,0.55)" stroke-width="1"/>
<rect x="525.70" y="136.39" width="39.0" height="8.95" fill="url(#gP4)" stroke="rgba(0,0,0,0.55)" stroke-width="1"/>
<rect x="644.90" y="119.18" width="4.7" height="75.82" fill="url(#shP)"/>
<rect x="605.40" y="168.82" width="39.0" height="26.18" fill="url(#gP0)" stroke="rgba(0,0,0,0.55)" stroke-width="1"/>
<rect x="605.40" y="160.30" width="39.0" height="8.52" fill="url(#gP1)" stroke="rgba(0,0,0,0.55)" stroke-width="1"/>
<rect x="605.40" y="154.60" width="39.0" height="5.70" fill="url(#gP2)" stroke="rgba(0,0,0,0.55)" stroke-width="1"/>
<rect x="605.40" y="123.39" width="39.0" height="31.21" fill="url(#gP3)" stroke="rgba(0,0,0,0.55)" stroke-width="1"/>
<rect x="605.40" y="118.18" width="39.0" height="5.21" fill="url(#gP4)" stroke="rgba(0,0,0,0.55)" stroke-width="1"/>
<line x1="28.5" x2="28.5" y1="90.5" y2="196" stroke="#777" stroke-width="1.1"/>
<line x1="28" x2="665" y1="195.5" y2="195.5" stroke="#777" stroke-width="1.1"/>
<line x1="26" x2="28" y1="195.00" y2="195.00" stroke="#7a7a7a" stroke-width="1"/>
<text x="23.2" y="196.90" text-anchor="end" font-family="Liberation Sans" font-size="7.6" fill="#141414" textLength="3.8" lengthAdjust="spacingAndGlyphs">0</text>
<line x1="26" x2="28" y1="188.87" y2="188.87" stroke="#7a7a7a" stroke-width="1"/>
<line x1="26" x2="28" y1="182.74" y2="182.74" stroke="#7a7a7a" stroke-width="1"/>
<text x="23.2" y="184.64" text-anchor="end" font-family="Liberation Sans" font-size="7.6" fill="#141414" textLength="11.4" lengthAdjust="spacingAndGlyphs">200</text>
<line x1="26" x2="28" y1="176.61" y2="176.61" stroke="#7a7a7a" stroke-width="1"/>
<line x1="26" x2="28" y1="170.47" y2="170.47" stroke="#7a7a7a" stroke-width="1"/>
<text x="23.2" y="172.38" text-anchor="end" font-family="Liberation Sans" font-size="7.6" fill="#141414" textLength="11.4" lengthAdjust="spacingAndGlyphs">400</text>
<line x1="26" x2="28" y1="164.34" y2="164.34" stroke="#7a7a7a" stroke-width="1"/>
<line x1="26" x2="28" y1="158.21" y2="158.21" stroke="#7a7a7a" stroke-width="1"/>
<text x="23.2" y="160.11" text-anchor="end" font-family="Liberation Sans" font-size="7.6" fill="#141414" textLength="11.4" lengthAdjust="spacingAndGlyphs">600</text>
<line x1="26" x2="28" y1="152.08" y2="152.08" stroke="#7a7a7a" stroke-width="1"/>
<line x1="26" x2="28" y1="145.95" y2="145.95" stroke="#7a7a7a" stroke-width="1"/>
<text x="23.2" y="147.85" text-anchor="end" font-family="Liberation Sans" font-size="7.6" fill="#141414" textLength="11.4" lengthAdjust="spacingAndGlyphs">800</text>
<line x1="26" x2="28" y1="139.82" y2="139.82" stroke="#7a7a7a" stroke-width="1"/>
<line x1="26" x2="28" y1="133.69" y2="133.69" stroke="#7a7a7a" stroke-width="1"/>
<text x="23.2" y="135.59" text-anchor="end" font-family="Liberation Sans" font-size="7.6" fill="#141414" textLength="15.2" lengthAdjust="spacingAndGlyphs">1000</text>
<line x1="26" x2="28" y1="127.56" y2="127.56" stroke="#7a7a7a" stroke-width="1"/>
<line x1="26" x2="28" y1="121.42" y2="121.42" stroke="#7a7a7a" stroke-width="1"/>
<text x="23.2" y="123.33" text-anchor="end" font-family="Liberation Sans" font-size="7.6" fill="#141414" textLength="15.2" lengthAdjust="spacingAndGlyphs">1200</text>
<line x1="26" x2="28" y1="115.29" y2="115.29" stroke="#7a7a7a" stroke-width="1"/>
<line x1="26" x2="28" y1="109.16" y2="109.16" stroke="#7a7a7a" stroke-width="1"/>
<text x="23.2" y="111.06" text-anchor="end" font-family="Liberation Sans" font-size="7.6" fill="#141414" textLength="15.2" lengthAdjust="spacingAndGlyphs">1400</text>
<line x1="26" x2="28" y1="103.03" y2="103.03" stroke="#7a7a7a" stroke-width="1"/>
<line x1="26" x2="28" y1="96.90" y2="96.90" stroke="#7a7a7a" stroke-width="1"/>
<text x="23.2" y="98.80" text-anchor="end" font-family="Liberation Sans" font-size="7.6" fill="#141414" textLength="15.2" lengthAdjust="spacingAndGlyphs">1600</text>
<line x1="67.30" x2="67.30" y1="195" y2="197" stroke="#7a7a7a" stroke-width="1"/>
<text x="67.30" y="205.3" text-anchor="middle" font-family="Liberation Sans" font-size="7.6" fill="#141414">1</text>
<line x1="147.00" x2="147.00" y1="195" y2="197" stroke="#7a7a7a" stroke-width="1"/>
<text x="147.00" y="205.3" text-anchor="middle" font-family="Liberation Sans" font-size="7.6" fill="#141414">2</text>
<line x1="226.70" x2="226.70" y1="195" y2="197" stroke="#7a7a7a" stroke-width="1"/>
<text x="226.70" y="205.3" text-anchor="middle" font-family="Liberation Sans" font-size="7.6" fill="#141414">3</text>
<line x1="306.40" x2="306.40" y1="195" y2="197" stroke="#7a7a7a" stroke-width="1"/>
<text x="306.40" y="205.3" text-anchor="middle" font-family="Liberation Sans" font-size="7.6" fill="#141414">4</text>
<line x1="386.10" x2="386.10" y1="195" y2="197" stroke="#7a7a7a" stroke-width="1"/>
<text x="386.10" y="205.3" text-anchor="middle" font-family="Liberation Sans" font-size="7.6" fill="#141414">5</text>
<line x1="465.80" x2="465.80" y1="195" y2="197" stroke="#7a7a7a" stroke-width="1"/>
<text x="465.80" y="205.3" text-anchor="middle" font-family="Liberation Sans" font-size="7.6" fill="#141414">6</text>
<line x1="545.50" x2="545.50" y1="195" y2="197" stroke="#7a7a7a" stroke-width="1"/>
<text x="545.50" y="205.3" text-anchor="middle" font-family="Liberation Sans" font-size="7.6" fill="#141414">7</text>
<line x1="625.20" x2="625.20" y1="195" y2="197" stroke="#7a7a7a" stroke-width="1"/>
<text x="625.20" y="205.3" text-anchor="middle" font-family="Liberation Sans" font-size="7.6" fill="#141414">8</text>
<rect x="225.0" y="212.5" width="220" height="10" rx="1" fill="#fff" stroke="#888" stroke-width="1"/>
<rect x="227.0" y="215.5" width="4" height="4" fill="#2a8a2a" stroke="rgba(0,0,0,0.45)" stroke-width="1"/>
<text x="232.9" y="220.3" font-family="Liberation Sans" font-size="7.2" fill="#111" textLength="30.2" lengthAdjust="spacingAndGlyphs">Sprockets</text>
<rect x="267.6" y="215.5" width="4" height="4" fill="#5aa8a0" stroke="rgba(0,0,0,0.45)" stroke-width="1"/>
<text x="273.5" y="220.3" font-family="Liberation Sans" font-size="7.2" fill="#111" textLength="25.2" lengthAdjust="spacingAndGlyphs">Widgets</text>
<rect x="302.5" y="215.5" width="4" height="4" fill="#f0c828" stroke="rgba(0,0,0,0.45)" stroke-width="1"/>
<text x="308.3" y="220.3" font-family="Liberation Sans" font-size="7.2" fill="#111" textLength="25.9" lengthAdjust="spacingAndGlyphs">Gadgets</text>
<rect x="338.2" y="215.5" width="4" height="4" fill="#8a6ee0" stroke="rgba(0,0,0,0.45)" stroke-width="1"/>
<text x="343.7" y="220.3" font-family="Liberation Sans" font-size="7.2" fill="#111" textLength="22.5" lengthAdjust="spacingAndGlyphs">Gizmos</text>
<rect x="370.8" y="215.5" width="4" height="4" fill="#c02878" stroke="rgba(0,0,0,0.45)" stroke-width="1"/>
<text x="376.6" y="220.3" font-family="Liberation Sans" font-size="7.2" fill="#111" textLength="63.3" lengthAdjust="spacingAndGlyphs">Thingamajigs (Units)</text>
</svg>
<div style="position:absolute;left:3px;right:3px;top:226px;height:1.5px;background:#f4f4f7"></div>
<div style="position:absolute;left:0;top:0;width:670px;height:331px;overflow:hidden">
<div style="position:absolute;left:21.8px;top:235.3px;font-size:15px;line-height:15px;font-weight:700;color:#000;white-space:nowrap;">Day</div>
<div style="position:absolute;right:515.1px;top:235.3px;font-size:15px;line-height:15px;font-weight:700;color:#000;white-space:nowrap;">Sprocket</div>
<div style="position:absolute;right:414.6px;top:235.3px;font-size:15px;line-height:15px;font-weight:700;color:#000;white-space:nowrap;">Widget</div>
<div style="position:absolute;right:315px;top:235.3px;font-size:15px;line-height:15px;font-weight:700;color:#000;white-space:nowrap;">Gadget</div>
<div style="position:absolute;right:215.2px;top:235.3px;font-size:15px;line-height:15px;font-weight:700;color:#000;white-space:nowrap;">Gizmo</div>
<div style="position:absolute;right:115px;top:235.3px;font-size:15px;line-height:15px;font-weight:700;color:#000;white-space:nowrap;">Thingamajig</div>
<div style="position:absolute;right:11.600000000000023px;top:235.3px;font-size:15px;line-height:15px;font-weight:700;color:#000;white-space:nowrap;">Total Units</div>
<div style="position:absolute;right:614.4px;top:253.0px;font-size:15px;line-height:15px;font-weight:400;color:#000;white-space:nowrap;letter-spacing:0.6px;">1</div>
<div style="position:absolute;right:514.5px;top:253.0px;font-size:15px;line-height:15px;font-weight:400;color:#000;white-space:nowrap;letter-spacing:0.6px;">456</div>
<div style="position:absolute;right:414.0px;top:253.0px;font-size:15px;line-height:15px;font-weight:400;color:#000;white-space:nowrap;letter-spacing:0.6px;">188</div>
<div style="position:absolute;right:314.4px;top:253.0px;font-size:15px;line-height:15px;font-weight:400;color:#000;white-space:nowrap;letter-spacing:0.6px;">121</div>
<div style="position:absolute;right:214.59999999999997px;top:253.0px;font-size:15px;line-height:15px;font-weight:400;color:#000;white-space:nowrap;letter-spacing:0.6px;">397</div>
<div style="position:absolute;right:114.39999999999998px;top:253.0px;font-size:15px;line-height:15px;font-weight:400;color:#000;white-space:nowrap;letter-spacing:0.6px;">89</div>
<div style="position:absolute;right:11.0px;top:253.0px;font-size:15px;line-height:15px;font-weight:400;color:#000;white-space:nowrap;letter-spacing:0.6px;">1<span style="letter-spacing:-1.4px">,</span>251</div>
<div style="position:absolute;right:614.4px;top:270.85px;font-size:15px;line-height:15px;font-weight:400;color:#000;white-space:nowrap;letter-spacing:0.6px;">2</div>
<div style="position:absolute;right:514.5px;top:270.85px;font-size:15px;line-height:15px;font-weight:400;color:#000;white-space:nowrap;letter-spacing:0.6px;">451</div>
<div style="position:absolute;right:414.0px;top:270.85px;font-size:15px;line-height:15px;font-weight:400;color:#000;white-space:nowrap;letter-spacing:0.6px;">104</div>
<div style="position:absolute;right:314.4px;top:270.85px;font-size:15px;line-height:15px;font-weight:400;color:#000;white-space:nowrap;letter-spacing:0.6px;">125</div>
<div style="position:absolute;right:214.59999999999997px;top:270.85px;font-size:15px;line-height:15px;font-weight:400;color:#000;white-space:nowrap;letter-spacing:0.6px;">238</div>
<div style="position:absolute;right:114.39999999999998px;top:270.85px;font-size:15px;line-height:15px;font-weight:400;color:#000;white-space:nowrap;letter-spacing:0.6px;">127</div>
<div style="position:absolute;right:11.0px;top:270.85px;font-size:15px;line-height:15px;font-weight:400;color:#000;white-space:nowrap;letter-spacing:0.6px;">1<span style="letter-spacing:-1.4px">,</span>045</div>
<div style="position:absolute;right:614.4px;top:288.7px;font-size:15px;line-height:15px;font-weight:400;color:#000;white-space:nowrap;letter-spacing:0.6px;">3</div>
<div style="position:absolute;right:514.5px;top:288.7px;font-size:15px;line-height:15px;font-weight:400;color:#000;white-space:nowrap;letter-spacing:0.6px;">472</div>
<div style="position:absolute;right:414.0px;top:288.7px;font-size:15px;line-height:15px;font-weight:400;color:#000;white-space:nowrap;letter-spacing:0.6px;">122</div>
<div style="position:absolute;right:314.4px;top:288.7px;font-size:15px;line-height:15px;font-weight:400;color:#000;white-space:nowrap;letter-spacing:0.6px;">96</div>
<div style="position:absolute;right:214.59999999999997px;top:288.7px;font-size:15px;line-height:15px;font-weight:400;color:#000;white-space:nowrap;letter-spacing:0.6px;">338</div>
<div style="position:absolute;right:114.39999999999998px;top:288.7px;font-size:15px;line-height:15px;font-weight:400;color:#000;white-space:nowrap;letter-spacing:0.6px;">189</div>
<div style="position:absolute;right:11.0px;top:288.7px;font-size:15px;line-height:15px;font-weight:400;color:#000;white-space:nowrap;letter-spacing:0.6px;">1<span style="letter-spacing:-1.4px">,</span>217</div>
<div style="position:absolute;right:614.4px;top:306.55px;font-size:15px;line-height:15px;font-weight:400;color:#000;white-space:nowrap;letter-spacing:0.6px;">4</div>
<div style="position:absolute;right:514.5px;top:306.55px;font-size:15px;line-height:15px;font-weight:400;color:#000;white-space:nowrap;letter-spacing:0.6px;">323</div>
<div style="position:absolute;right:414.0px;top:306.55px;font-size:15px;line-height:15px;font-weight:400;color:#000;white-space:nowrap;letter-spacing:0.6px;">123</div>
<div style="position:absolute;right:314.4px;top:306.55px;font-size:15px;line-height:15px;font-weight:400;color:#000;white-space:nowrap;letter-spacing:0.6px;">137</div>
<div style="position:absolute;right:214.59999999999997px;top:306.55px;font-size:15px;line-height:15px;font-weight:400;color:#000;white-space:nowrap;letter-spacing:0.6px;">554</div>
<div style="position:absolute;right:114.39999999999998px;top:306.55px;font-size:15px;line-height:15px;font-weight:400;color:#000;white-space:nowrap;letter-spacing:0.6px;">85</div>
<div style="position:absolute;right:11.0px;top:306.55px;font-size:15px;line-height:15px;font-weight:400;color:#000;white-space:nowrap;letter-spacing:0.6px;">1<span style="letter-spacing:-1.4px">,</span>222</div>
<div style="position:absolute;right:614.4px;top:324.4px;font-size:15px;line-height:15px;font-weight:400;color:#000;white-space:nowrap;letter-spacing:0.6px;">5</div>
<div style="position:absolute;right:514.5px;top:324.4px;font-size:15px;line-height:15px;font-weight:400;color:#000;white-space:nowrap;letter-spacing:0.6px;">471</div>
<div style="position:absolute;right:414.0px;top:324.4px;font-size:15px;line-height:15px;font-weight:400;color:#000;white-space:nowrap;letter-spacing:0.6px;">179</div>
<div style="position:absolute;right:314.4px;top:324.4px;font-size:15px;line-height:15px;font-weight:400;color:#000;white-space:nowrap;letter-spacing:0.6px;">156</div>
<div style="position:absolute;right:214.59999999999997px;top:324.4px;font-size:15px;line-height:15px;font-weight:400;color:#000;white-space:nowrap;letter-spacing:0.6px;">625</div>
<div style="position:absolute;right:114.39999999999998px;top:324.4px;font-size:15px;line-height:15px;font-weight:400;color:#000;white-space:nowrap;letter-spacing:0.6px;">154</div>
<div style="position:absolute;right:11.0px;top:324.4px;font-size:15px;line-height:15px;font-weight:400;color:#000;white-space:nowrap;letter-spacing:0.6px;">1<span style="letter-spacing:-1.4px">,</span>585</div>
<div style="position:absolute;right:614.4px;top:342.25px;font-size:15px;line-height:15px;font-weight:400;color:#000;white-space:nowrap;letter-spacing:0.6px;">6</div>
<div style="position:absolute;right:514.5px;top:342.25px;font-size:15px;line-height:15px;font-weight:400;color:#000;white-space:nowrap;letter-spacing:0.6px;">343</div>
<div style="position:absolute;right:414.0px;top:342.25px;font-size:15px;line-height:15px;font-weight:400;color:#000;white-space:nowrap;letter-spacing:0.6px;">67</div>
<div style="position:absolute;right:314.4px;top:342.25px;font-size:15px;line-height:15px;font-weight:400;color:#000;white-space:nowrap;letter-spacing:0.6px;">166</div>
<div style="position:absolute;right:214.59999999999997px;top:342.25px;font-size:15px;line-height:15px;font-weight:400;color:#000;white-space:nowrap;letter-spacing:0.6px;">471</div>
<div style="position:absolute;right:114.39999999999998px;top:342.25px;font-size:15px;line-height:15px;font-weight:400;color:#000;white-space:nowrap;letter-spacing:0.6px;">162</div>
<div style="position:absolute;right:11.0px;top:342.25px;font-size:15px;line-height:15px;font-weight:400;color:#000;white-space:nowrap;letter-spacing:0.6px;">1<span style="letter-spacing:-1.4px">,</span>209</div>
<div style="position:absolute;right:614.4px;top:360.1px;font-size:15px;line-height:15px;font-weight:400;color:#000;white-space:nowrap;letter-spacing:0.6px;">7</div>
<div style="position:absolute;right:514.5px;top:360.1px;font-size:15px;line-height:15px;font-weight:400;color:#000;white-space:nowrap;letter-spacing:0.6px;">341</div>
<div style="position:absolute;right:414.0px;top:360.1px;font-size:15px;line-height:15px;font-weight:400;color:#000;white-space:nowrap;letter-spacing:0.6px;">77</div>
<div style="position:absolute;right:314.4px;top:360.1px;font-size:15px;line-height:15px;font-weight:400;color:#000;white-space:nowrap;letter-spacing:0.6px;">160</div>
<div style="position:absolute;right:214.59999999999997px;top:360.1px;font-size:15px;line-height:15px;font-weight:400;color:#000;white-space:nowrap;letter-spacing:0.6px;">232</div>
<div style="position:absolute;right:114.39999999999998px;top:360.1px;font-size:15px;line-height:15px;font-weight:400;color:#000;white-space:nowrap;letter-spacing:0.6px;">146</div>
<div style="position:absolute;right:11.0px;top:360.1px;font-size:15px;line-height:15px;font-weight:400;color:#000;white-space:nowrap;letter-spacing:0.6px;">956</div>
<div style="position:absolute;right:614.4px;top:377.95000000000005px;font-size:15px;line-height:15px;font-weight:400;color:#000;white-space:nowrap;letter-spacing:0.6px;">8</div>
<div style="position:absolute;right:514.5px;top:377.95000000000005px;font-size:15px;line-height:15px;font-weight:400;color:#000;white-space:nowrap;letter-spacing:0.6px;">427</div>
<div style="position:absolute;right:414.0px;top:377.95000000000005px;font-size:15px;line-height:15px;font-weight:400;color:#000;white-space:nowrap;letter-spacing:0.6px;">139</div>
<div style="position:absolute;right:314.4px;top:377.95000000000005px;font-size:15px;line-height:15px;font-weight:400;color:#000;white-space:nowrap;letter-spacing:0.6px;">93</div>
<div style="position:absolute;right:214.59999999999997px;top:377.95000000000005px;font-size:15px;line-height:15px;font-weight:400;color:#000;white-space:nowrap;letter-spacing:0.6px;">509</div>
<div style="position:absolute;right:114.39999999999998px;top:377.95000000000005px;font-size:15px;line-height:15px;font-weight:400;color:#000;white-space:nowrap;letter-spacing:0.6px;">85</div>
<div style="position:absolute;right:11.0px;top:377.95000000000005px;font-size:15px;line-height:15px;font-weight:400;color:#000;white-space:nowrap;letter-spacing:0.6px;">1<span style="letter-spacing:-1.4px">,</span>253</div>
</div>
<svg style="position:absolute;left:18px;top:348px" width="14" height="14" viewBox="0 0 14 14"><path d="M9.6 2.9 L3.4 7 L9.6 11.1" fill="none" stroke="#000" stroke-width="2.5" stroke-linecap="round" stroke-linejoin="miter"/></svg>
<div style="position:absolute;left:558px;top:347.5px;font-size:14px;line-height:14px;font-weight:700;color:#000;white-space:nowrap;">Abc-</div><div style="position:absolute;left:609.3px;top:344px;font-size:18px;line-height:18px;font-weight:700;color:#000;white-space:nowrap;">Abc+</div>
</div>
</body></html>
